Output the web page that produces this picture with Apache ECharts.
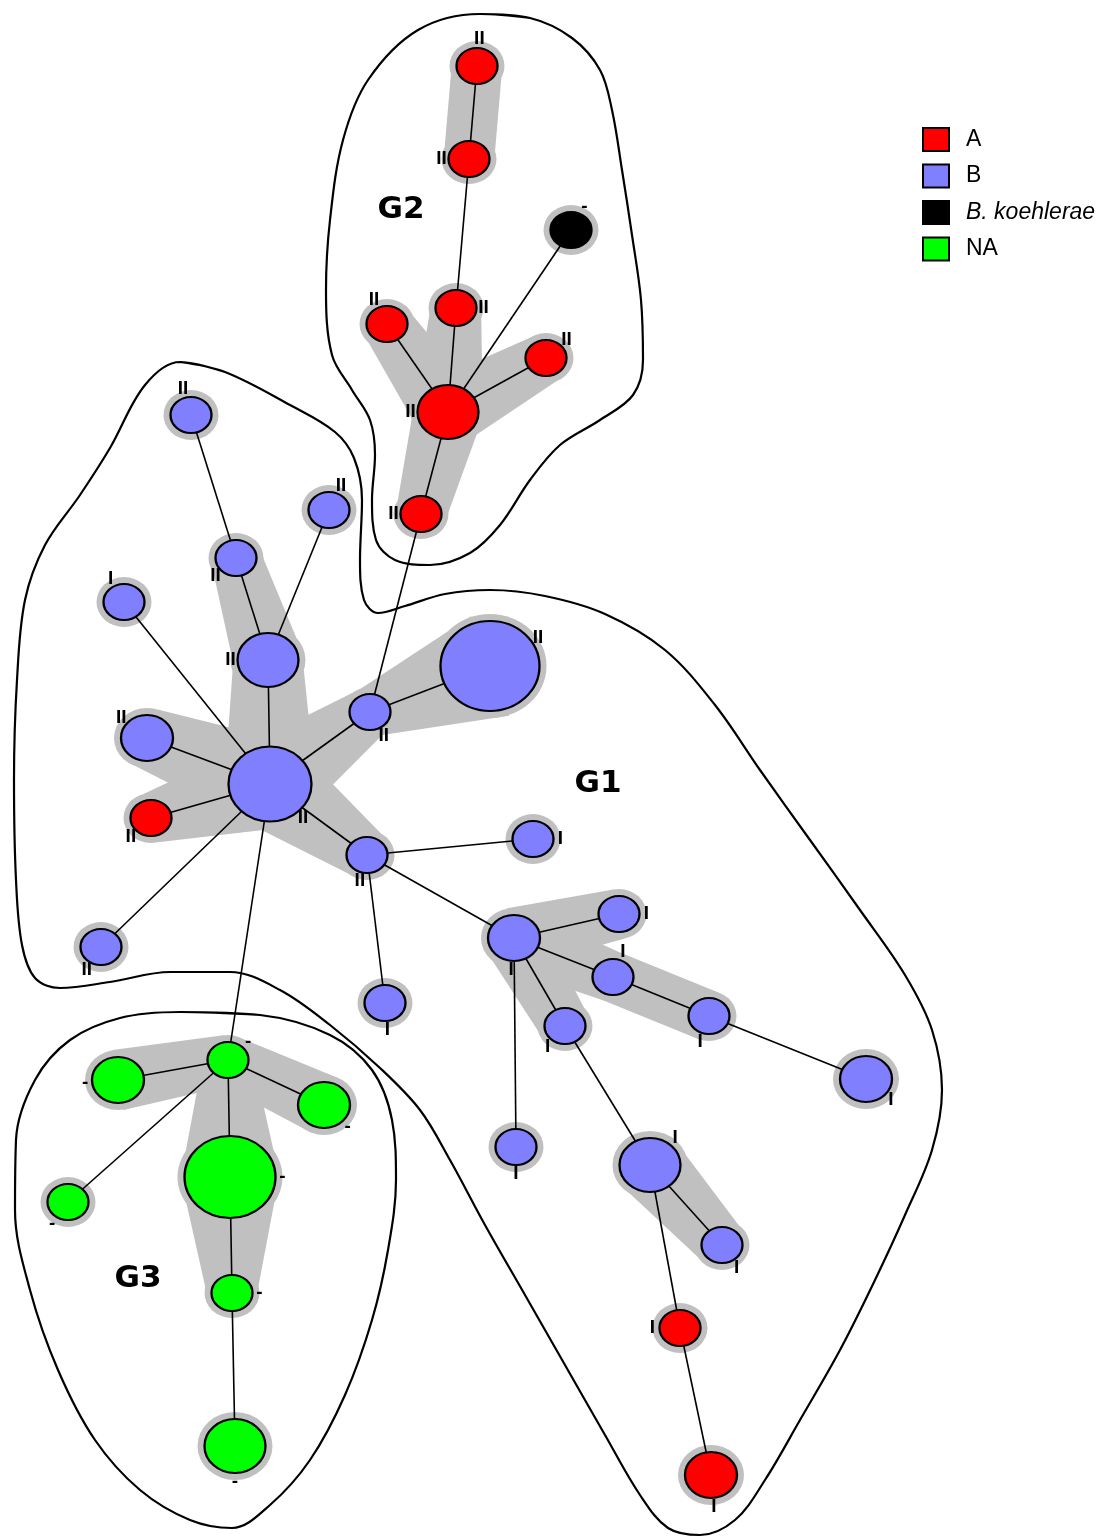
<!DOCTYPE html>
<html><head><meta charset="utf-8">
<script src="https://cdn.jsdelivr.net/npm/echarts@6/dist/echarts.min.js"></script>
<style>html,body{margin:0;padding:0;background:#fff}#c{width:1109px;height:1538px}</style>
</head><body><div id="c"></div>
<script>
// ---------- data ----------
const groups = ['A', 'B', 'B. koehlerae', 'NA'];
const nodeIds = ['a1','a2','k1','a3','a4','a5','a6','a7',
  'b1','b2','b3','b4','b5','b6','b7','a8','b8','b9','b10','b11','b12','b13','b14','b15','b16','b17','b18','b19','b20','b21','b22','a9','a10',
  'g1','g2','g3','g4','g5','g6','g7'];
const nodeX = [477,469,571,387,456,546,448,421,
  191,329,236,124,268,147,270,151,101,370,490,367,533,385,514,619,613,565,709,866,516,650,722,680,711,
  228,118,324,230,68,232,235];
const nodeY = [66,159,230,324,308,358,412,514,
  415,510,558,602,660,738,784,818,947,712,666,855,839,1003,938,914,977,1026,1016,1079,1147,1165,1245,1328,1475,
  1060,1080,1105,1177,1202,1293,1446];
const nodeGroup = ['A','A','B. koehlerae','A','A','A','A','A',
  'B','B','B','B','B','B','B','A','B','B','B','B','B','B','B','B','B','B','B','B','B','B','B','A','A',
  'NA','NA','NA','NA','NA','NA','NA'];
// relative number of isolates in each node (drives the ellipse size)
const nodeWeight = [1,1,1,1,1,1,3,1,
  1,1,1,1,3,2,4,1,1,1,6,1,1,1,2,1,1,1,1,2,1,3,1,1,2,
  1,2,2,5,1,1,3];
const nodeLabel = ['II','II','-','II','II','II','II','II',
  'II','II','II','I','II','II','II','II','II','II','II','II','I','I','I','I','I','I','I','I','I','I','I','I','I',
  '-','-','-','-','-','-','-'];
// direction (degrees, counter-clockwise from east) of each node's label
const labelAngle = [85,180,61,118,0,42,180,180,
  107,64,222,119,180,141,-47,223,239,-60,32,255,0,275,265,0,69,231,251,-41,270,48,-58,180,275,
  43,185,-44,0,235,0,270];
const edges = [['a1','a2'],['a2','a4'],['a4','a6'],['a3','a6'],['a5','a6'],['k1','a6'],['a6','a7'],['a7','b9'],
  ['b1','b3'],['b3','b5'],['b2','b5'],['b5','b7'],['b4','b7'],['b6','b7'],['a8','b7'],['b8','b7'],['b7','b9'],['b9','b10'],
  ['b7','b11'],['b11','b12'],['b11','b13'],['b11','b14'],['b14','b15'],['b14','b16'],['b16','b18'],['b18','b19'],
  ['b14','b17'],['b14','b20'],['b17','b21'],['b21','b22'],['b21','a9'],['a9','a10'],['b7','g1'],
  ['g1','g2'],['g1','g3'],['g1','g4'],['g1','g5'],['g4','g6'],['g6','g7']];
const clusterLinks = [['a1','a2'],['a6','a3'],['a6','a4'],['a6','a5'],['a6','a7'],
  ['b3','b5'],['b5','b7'],['b6','b7'],['a8','b7'],['b7','b9'],['b9','b10'],['b7','b11'],
  ['b14','b15'],['b14','b16'],['b16','b18'],['b14','b17'],['b21','b22'],
  ['g1','g2'],['g1','g3'],['g1','g4'],['g4','g6']];
const hullNames = ['G1','G2','G3'];
const hullLabelX = [598, 401, 138];
const hullLabelY = [784, 210, 1279];
const hullG1 = [[180,362],[225,372],[290,405],[335,432],[354,458],[362,500],[360,560],[364,600],[378,613],[405,606],[445,594],[490,590],[545,596],[605,614],[665,650],[715,705],[760,770],[810,840],[860,910],[905,975],[932,1030],[942,1090],[932,1150],[905,1215],[875,1280],[840,1350],[800,1420],[765,1480],[735,1520],[700,1535],[668,1528],[640,1495],[605,1435],[565,1365],[525,1295],[485,1225],[450,1160],[420,1110],[380,1068],[330,1025],[280,990],[230,972],[170,972],[110,982],[60,988],[35,978],[22,945],[16,880],[14,780],[17,680],[25,600],[45,545],[80,495],[110,448],[145,385]];
const hullG2 = [[480,14],[530,18],[572,38],[600,70],[612,110],[622,170],[632,235],[641,300],[643,360],[633,395],[600,420],[560,445],[530,480],[500,525],[470,553],[430,565],[395,560],[376,540],[372,500],[375,455],[370,420],[352,390],[332,355],[326,290],[330,220],[343,140],[368,80],[418,30]];
const hullG3 = [[180,1012],[260,1015],[330,1035],[372,1070],[392,1120],[396,1180],[388,1250],[372,1320],[345,1395],[310,1460],[270,1505],[232,1528],[190,1520],[140,1490],[95,1440],[58,1370],[30,1290],[15,1210],[16,1140],[35,1080],[70,1040],[120,1018]];

// ---------- styling ----------
const groupColor = {'A':'#ff0000','B':'#8080ff','B. koehlerae':'#000000','NA':'#00ff00'};
const sizeByWeight = {1:[41,36],2:[52,46],3:[61,54],4:[83,75],5:[91,82],6:[99,90]};
const ELLIPSE = 'path://M0,50A50,50,0,1,1,100,50A50,50,0,1,1,0,50Z';
const GREY = '#c0c0c0';
const idx = {}; nodeIds.forEach((id,i)=>idx[id]=i);
const sz = i => sizeByWeight[nodeWeight[i]];
const bandR = i => { const s = sz(i); return (s[0]+s[1])/4 + 6; };

const graphData = nodeIds.map((id,i)=>{
  const [w,h] = sz(i); const t = labelAngle[i]*Math.PI/180;
  return {
    name: id, value: [nodeX[i], nodeY[i]], category: groups.indexOf(nodeGroup[i]),
    symbolSize: [w,h],
    label: {show:true, position:'inside', formatter: nodeLabel[i],
      offset: [(w/2+7)*Math.cos(t), -(h/2+9)*Math.sin(t)],
      fontSize: 19, fontWeight: 'bold', fontFamily: 'Liberation Sans', color: '#000', textBorderWidth: 0}
  };
});
const haloData = nodeIds.map((id,i)=>{ const [w,h]=sz(i); return {value:[nodeX[i],nodeY[i]], symbolSize:[w+14,h+14]}; });
const bandData = clusterLinks.map(([a,b])=>{ const i=idx[a], j=idx[b]; return [nodeX[i],nodeY[i],nodeX[j],nodeY[j],bandR(i),bandR(j)]; });

const hullSeries = [hullG1,hullG2,hullG3].map((pts,k)=>({
  type:'line', name:'hull'+k, data: pts.concat([pts[0], pts[1]]), smooth: 0.35, symbol:'none', silent:true,
  lineStyle:{color:'#000', width:2.2}, z:1
}));

const chart = echarts.init(document.getElementById('c'), null, {renderer:'canvas'});
chart.setOption({
  animation: false,
  backgroundColor: '#fff',
  grid: {left:0, right:0, top:0, bottom:0},
  xAxis: {type:'value', min:0, max:1109, show:false},
  yAxis: {type:'value', min:0, max:1538, inverse:true, show:false},
  legend: {
    data: groups, orient:'vertical', left:922, top:127, padding:0,
    icon:'rect', itemWidth:26, itemHeight:23, itemGap:11.5,
    itemStyle:{borderColor:'#000', borderWidth:2},
    textStyle:{fontSize:23, fontFamily:'Liberation Sans', color:'#000', lineHeight:23, padding:[0,0,0,12],
      rich:{i:{fontStyle:'italic', fontSize:23, fontFamily:'Liberation Sans', color:'#000', lineHeight:23}}},
    formatter: n => n === 'B. koehlerae' ? '{i|' + n + '}' : n,
    selectedMode:false
  },
  series: [
    ...hullSeries,
    {
      type:'custom', name:'bands', coordinateSystem:'cartesian2d', data: bandData, silent:true, z:2,
      encode:{x:[0,2], y:[1,3]},
      renderItem:(params, api)=>{
        const a = api.coord([api.value(0), api.value(1)]);
        const b = api.coord([api.value(2), api.value(3)]);
        const ra = api.value(4), rb = api.value(5);
        const dx=b[0]-a[0], dy=b[1]-a[1], L=Math.hypot(dx,dy); const nx=-dy/L, ny=dx/L;
        return {type:'polygon', shape:{points:[[a[0]+nx*ra,a[1]+ny*ra],[b[0]+nx*rb,b[1]+ny*rb],[b[0]-nx*rb,b[1]-ny*rb],[a[0]-nx*ra,a[1]-ny*ra]]},
          style:{fill:GREY}};
      }
    },
    {
      type:'scatter', name:'halo', data: haloData, symbol: ELLIPSE, silent:true, z:3,
      itemStyle:{color:GREY, opacity:1}
    },
    {
      type:'graph', coordinateSystem:'cartesian2d', layout:'none', z:4,
      symbol: ELLIPSE,
      categories: groups.map(g=>({name:g, itemStyle:{color:groupColor[g]}})),
      data: graphData,
      links: edges.map(([s,t])=>({source:s, target:t})),
      lineStyle:{color:'#000', width:1.6, opacity:1, curveness:0},
      itemStyle:{borderColor:'#000', borderWidth:2.2},
      emphasis:{disabled:true}
    },
    {
      type:'custom', name:'groupNames', coordinateSystem:'cartesian2d', z:5, silent:true,
      data: hullNames.map((n,k)=>[hullLabelX[k], hullLabelY[k], k]),
      encode:{x:0, y:1},
      renderItem:(params, api)=>{
        const p = api.coord([api.value(0), api.value(1)]);
        return {type:'text', x:p[0], y:p[1],
          style:{text: hullNames[api.value(2)], fill:'#000', font:'bold 31px "DejaVu Sans"', align:'center', verticalAlign:'middle'}};
      }
    }
  ]
});
</script></body></html>
